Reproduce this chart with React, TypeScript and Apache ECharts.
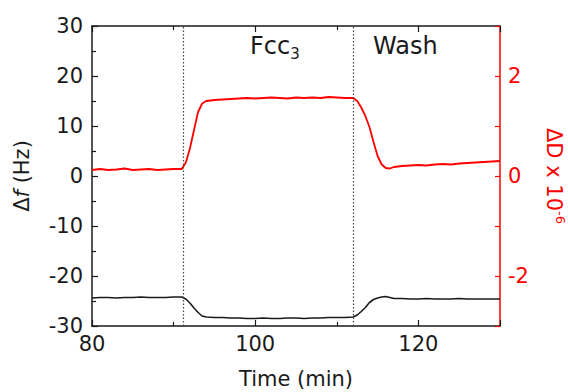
import React, { useEffect, useRef } from "react";
import * as echarts from "echarts";

// Time (min)
const times = [
  80, 81, 82, 83, 84, 85, 86, 87, 88, 89, 90, 91,
  91.5, 92, 92.5, 93, 93.5, 94,
  95, 96, 97, 98, 99, 100, 101, 102, 103, 104, 105, 106, 107, 108, 109, 110, 111, 112,
  112.5, 113, 113.5, 114, 114.5, 115, 115.5, 116, 116.5, 117,
  118, 119, 120, 121, 122, 123, 124, 125, 126, 127, 128, 129, 130,
];

// Δf (Hz) — left axis
const deltaF = [
  -24.4, -24.3, -24.3, -24.4, -24.3, -24.3, -24.2, -24.3, -24.3, -24.3, -24.2, -24.2,
  -24.6, -25.4, -26.4, -27.3, -28.0, -28.2,
  -28.3, -28.3, -28.4, -28.4, -28.5, -28.5, -28.4, -28.5, -28.5, -28.4, -28.4, -28.5, -28.4, -28.4, -28.3, -28.3, -28.3, -28.2,
  -27.8, -27.1, -26.3, -25.3, -24.7, -24.4, -24.2, -24.1, -24.3, -24.5,
  -24.5, -24.6, -24.6, -24.5, -24.6, -24.6, -24.6, -24.5, -24.6, -24.6, -24.6, -24.6, -24.6,
];

// ΔD x 10^-6 — right axis
const deltaD = [
  0.12, 0.14, 0.12, 0.13, 0.15, 0.12, 0.13, 0.14, 0.12, 0.13, 0.14, 0.14,
  0.27, 0.55, 0.92, 1.28, 1.45, 1.5,
  1.52, 1.53, 1.54, 1.55, 1.56, 1.55, 1.56, 1.57, 1.56, 1.55, 1.57, 1.56, 1.57, 1.56, 1.58, 1.57, 1.56, 1.56,
  1.5, 1.37, 1.2, 0.98, 0.68, 0.4, 0.23, 0.16, 0.15, 0.18,
  0.2, 0.21, 0.22, 0.21, 0.23, 0.24, 0.23, 0.25, 0.26, 0.27, 0.28, 0.29, 0.3,
];

// Phase boundaries (min)
const markers = [91.2, 112];

const FONT = "DejaVu Sans";
const RED = "#ff0000";
const INK = "#1a1a1a";

export default function App() {
  const ref = useRef<HTMLDivElement>(null);

  useEffect(() => {
    if (!ref.current) return;
    const chart = echarts.init(ref.current, null, { renderer: "svg" });
    const xCommon = {
      type: "value",
      min: 80,
      max: 130,
      interval: 20,
      splitLine: { show: false },
      axisLine: { show: true, onZero: false, lineStyle: { color: INK, width: 1.5 } },
      axisTick: { show: true, inside: true, length: 6, lineStyle: { color: INK, width: 1.2 } },
      minorTick: { show: true, splitNumber: 2, length: 4, lineStyle: { color: INK, width: 1.2 } },
    };
    chart.setOption({
      animation: false,
      textStyle: { fontFamily: FONT },
      grid: { left: 92, right: 68, top: 26, bottom: 66, containLabel: false, outerBoundsMode: "none" },
      xAxis: [
        {
          ...xCommon,
          position: "bottom",
          axisLabel: {
            fontSize: 21,
            color: INK,
            margin: 7,
            formatter: (v: number) => (v === 130 ? "" : String(v)),
          },
          name: "Time (min)",
          nameLocation: "middle",
          nameGap: 42,
          nameTextStyle: { fontSize: 21, color: INK, fontFamily: FONT },
        },
        {
          ...xCommon,
          position: "top",
          axisLabel: { show: false },
        },
      ],
      yAxis: [
        {
          type: "value",
          position: "left",
          min: -30,
          max: 30,
          interval: 10,
          splitLine: { show: false },
          axisLine: { show: true, onZero: false, lineStyle: { color: INK, width: 1.5 } },
          axisTick: { show: true, inside: true, length: 6, lineStyle: { color: INK, width: 1.2 } },
          minorTick: { show: true, splitNumber: 2, length: 4, lineStyle: { color: INK, width: 1.2 } },
          axisLabel: { fontSize: 21, color: INK, margin: 9 },
          name: "{a|Δ}{i|f}{a| (Hz)}",
          nameLocation: "middle",
          nameGap: 60,
          nameTextStyle: {
            color: INK,
            rich: {
              a: { fontSize: 21, fontFamily: FONT, color: INK },
              i: { fontSize: 21, fontFamily: FONT, fontStyle: "italic", color: INK },
            },
          },
        },
        {
          type: "value",
          position: "right",
          min: -3,
          max: 3,
          interval: 1,
          splitLine: { show: false },
          axisLine: { show: true, onZero: false, lineStyle: { color: RED, width: 1.5 } },
          axisTick: { show: true, inside: true, length: 5, lineStyle: { color: RED, width: 1.2 } },
          axisLabel: {
            fontSize: 21,
            color: RED,
            margin: 8,
            formatter: (v: number) => (Math.abs(v) < 3 && v % 2 === 0 ? String(v) : ""),
          },
          name: "{a|ΔD x 10}{s|-6}",
          nameLocation: "middle",
          nameRotate: -90,
          nameGap: 41,
          nameTextStyle: {
            color: RED,
            rich: {
              a: { fontSize: 21, fontFamily: FONT, color: RED, lineHeight: 26 },
              s: { fontSize: 13, fontFamily: FONT, color: RED, verticalAlign: "top", lineHeight: 26 },
            },
          },
        },
      ],
      graphic: [
        {
          type: "text",
          left: 250,
          top: 34,
          style: {
            text: "{a|Fcc}{b|3}",
            rich: {
              a: { fontSize: 24, fontFamily: FONT, fill: INK, lineHeight: 30 },
              b: { fontSize: 15, fontFamily: FONT, fill: INK, verticalAlign: "bottom", lineHeight: 30 },
            },
          },
        },
        {
          type: "text",
          left: 373,
          top: 34,
          style: { text: "Wash", font: `24px "${FONT}"`, fill: INK },
        },
      ],
      series: [
        {
          type: "line",
          xAxisIndex: 0,
          yAxisIndex: 0,
          data: times.map((t, i) => [t, deltaF[i]]),
          showSymbol: false,
          symbol: "none",
          lineStyle: { color: INK, width: 1.6 },
          markLine: {
            silent: true,
            symbol: "none",
            label: { show: false },
            lineStyle: { type: [1.5, 2], color: "#444", width: 1.2 },
            data: markers.map((m) => ({ xAxis: m })),
          },
        },
        {
          type: "line",
          xAxisIndex: 0,
          yAxisIndex: 1,
          data: times.map((t, i) => [t, deltaD[i]]),
          showSymbol: false,
          symbol: "none",
          lineStyle: { color: RED, width: 1.8 },
        },
      ],
    });
    return () => chart.dispose();
  }, []);

  return (
    <div
      ref={ref}
      style={{ position: "fixed", left: 0, top: 0, width: 568, height: 392, background: "#fff" }}
    />
  );
}
